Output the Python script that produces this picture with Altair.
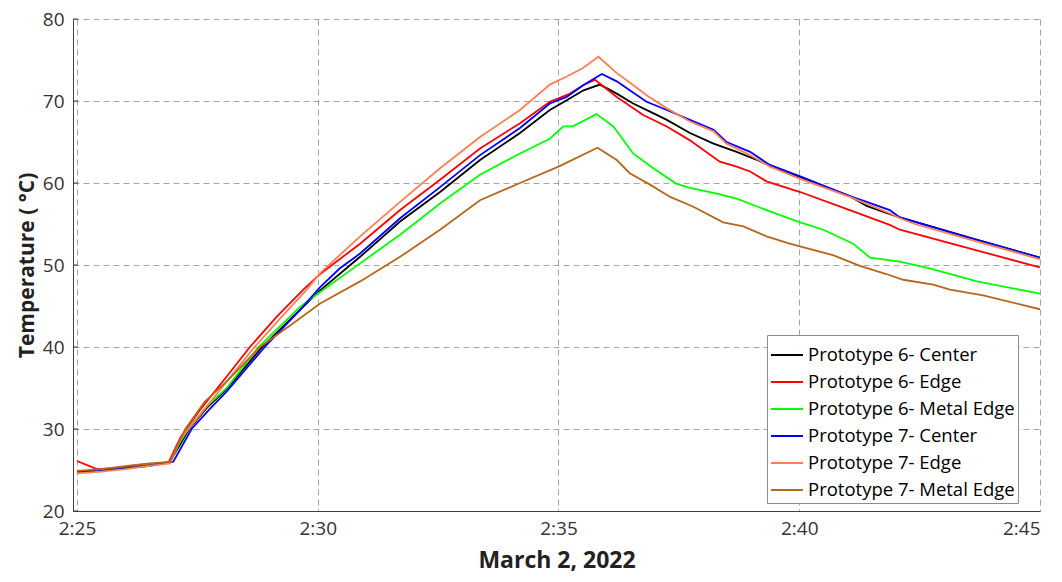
import altair as alt
import pandas as pd

# Series names and line colours
SERIES = [
    "Prototype 6- Center",
    "Prototype 6- Edge",
    "Prototype 6- Metal Edge",
    "Prototype 7- Center",
    "Prototype 7- Edge",
    "Prototype 7- Metal Edge",
]
COLORS = ["#000000", "#ff0000", "#00ff00", "#0000ff", "#ff7f50", "#b8671a"]

# Time in minutes after 2:25, temperature in °C
p6_center_t = [0, 0.5, 1.0, 1.5, 1.93, 2.15, 2.33, 2.7, 3.11, 3.83, 4.5, 5.05, 5.88, 6.71, 7.54, 8.37, 9.2,
               9.82, 10.17, 10.52, 10.86, 11.21, 11.55, 11.90, 12.25, 12.73, 13.22, 13.70, 14.12,
               14.53, 15.02, 15.5, 16.05, 16.4, 16.88, 17.09, 18.55, 20]
p6_center_v = [24.8, 25.0, 25.3, 25.6, 26.0, 28.2, 30.0, 32.6, 34.9, 39.9, 43.8, 46.9, 51.0, 55.3, 58.9, 62.8, 66.1,
               68.9, 70.1, 71.3, 72.0, 70.9, 69.7, 68.7, 67.7, 66.1, 64.8, 63.8, 62.8,
               61.8, 60.7, 59.6, 58.4, 57.2, 56.2, 55.8, 53.3, 50.9]

p6_edge_t = [0, 0.41, 1.0, 1.5, 1.9, 2.15, 2.55, 3.11, 3.59, 4.15, 4.70, 5.05, 5.88, 6.71, 7.54, 8.37, 9.2,
             9.82, 10.24, 10.52, 10.76, 11.21, 11.76, 12.25, 12.73, 13.35, 13.70, 13.98, 14.32,
             15.02, 16.05, 16.88, 17.09, 18.55, 20]
p6_edge_v = [26.1, 25.1, 25.3, 25.6, 25.9, 29.0, 32.3, 36.4, 40.0, 43.7, 47.0, 48.9, 52.6, 56.7, 60.4, 64.2, 67.3,
             69.9, 70.9, 71.95, 72.6, 70.5, 68.3, 66.9, 65.2, 62.6, 62.0, 61.4, 60.2,
             58.9, 56.7, 54.9, 54.3, 52.0, 49.7]

p6_metal_t = [0, 0.5, 1.0, 1.5, 1.93, 2.12, 2.31, 2.7, 3.11, 3.77, 4.63, 5.05, 5.88, 6.71, 7.54, 8.37, 9.2,
              9.82, 10.1, 10.3, 10.79, 11.14, 11.55, 11.97, 12.45, 12.73, 13.29, 13.70, 14.32,
              15.02, 15.5, 16.12, 16.47, 17.09, 17.71, 18.69, 20]
p6_metal_v = [24.7, 24.9, 25.2, 25.5, 25.9, 28.2, 30.0, 32.8, 35.0, 40.0, 44.9, 46.7, 50.2, 53.7, 57.5, 61.0, 63.6,
              65.4, 66.9, 66.9, 68.4, 66.9, 63.6, 61.8, 59.9, 59.4, 58.7, 58.1, 56.7,
              55.2, 54.3, 52.6, 50.9, 50.4, 49.6, 48.0, 46.5]

p7_center_t = [0, 0.5, 1.0, 1.5, 2.0, 2.38, 2.75, 3.11, 3.90, 4.63, 5.05, 5.46, 5.88, 6.71, 7.54, 8.37, 9.2,
               9.82, 10.17, 10.52, 10.90, 11.21, 11.48, 11.83, 12.25, 12.73, 13.22, 13.49, 13.98,
               14.39, 15.02, 16.05, 16.4, 16.88, 17.09, 18.55, 20]
p7_center_v = [24.8, 24.9, 25.2, 25.5, 26.0, 30.0, 32.4, 34.6, 40.0, 44.5, 47.3, 49.6, 51.4, 55.7, 59.5, 63.4, 66.7,
               69.7, 70.5, 71.95, 73.3, 72.4, 71.3, 69.9, 68.9, 67.7, 66.5, 65.0, 63.8,
               62.2, 60.8, 58.4, 57.7, 56.7, 55.8, 53.3, 50.9]

p7_edge_t = [0, 0.5, 1.0, 1.5, 1.93, 2.15, 2.55, 3.11, 3.66, 4.22, 4.77, 5.05, 5.88, 6.71, 7.54, 8.37, 9.2,
             9.82, 10.16, 10.5, 10.83, 11.21, 11.55, 11.83, 12.25, 12.73, 13.22, 13.49, 13.98,
             14.39, 15.02, 16.05, 16.88, 17.09, 17.4, 18.55, 20]
p7_edge_v = [24.6, 24.8, 25.1, 25.5, 25.8, 28.8, 31.7, 35.8, 39.8, 43.5, 47.0, 49.0, 53.5, 57.7, 61.8, 65.6, 68.9,
             72.0, 72.96, 74.0, 75.4, 73.4, 71.95, 70.7, 69.1, 67.5, 66.3, 64.8, 63.4,
             62.0, 60.5, 58.3, 56.3, 55.7, 55.0, 53.1, 50.7]

p7_metal_t = [0, 0.5, 1.17, 1.5, 1.93, 2.25, 2.65, 3.11, 3.80, 4.49, 5.05, 5.88, 6.71, 7.54, 8.37, 9.2,
              10.0, 10.81, 11.21, 11.48, 11.90, 12.32, 12.80, 13.42, 13.84, 14.32, 14.8, 15.7,
              16.26, 16.81, 17.16, 17.78, 18.13, 18.82, 20]
p7_metal_v = [24.9, 25.1, 25.6, 25.8, 26.0, 30.0, 33.3, 35.8, 40.0, 42.9, 45.3, 48.0, 51.0, 54.3, 57.9, 60.0,
              62.0, 64.3, 62.8, 61.2, 59.8, 58.3, 57.1, 55.2, 54.7, 53.5, 52.6, 51.2,
              49.9, 48.9, 48.2, 47.6, 47.0, 46.3, 44.6]

TIMES = [p6_center_t, p6_edge_t, p6_metal_t, p7_center_t, p7_edge_t, p7_metal_t]
VALUES = [p6_center_v, p6_edge_v, p6_metal_v, p7_center_v, p7_edge_v, p7_metal_v]

X_TICKS = [0, 5, 10, 15, 20]
Y_TICKS = [20, 30, 40, 50, 60, 70, 80]

df = pd.concat(
    [pd.DataFrame({"minute": t, "temp": v, "series": name})
     for name, t, v in zip(SERIES, TIMES, VALUES)],
    ignore_index=True,
)

FONT = "Open Sans"
AXIS_GRAY = "#404040"

x_scale = alt.Scale(domain=[-0.083, 20], nice=False, zero=False)
y_scale = alt.Scale(domain=[20, 80], nice=False, zero=False)

lines = alt.Chart(df).mark_line(strokeWidth=1.8, clip=True).encode(
    x=alt.X(
        "minute:Q",
        scale=x_scale,
        axis=alt.Axis(
            values=X_TICKS,
            labelExpr="'2:' + (25 + datum.value)",
            title="March 2, 2022",
            titleFontSize=23,
            titleFontWeight="bold",
            titleColor="#222222",
            titlePadding=11,
            labelFontSize=19,
            labelColor="#333333",
            labelPadding=8,
            tickSize=0,
            domainColor=AXIS_GRAY,
            gridDash=[6, 4],
            gridColor="#a6a6a6",
        ),
    ),
    y=alt.Y(
        "temp:Q",
        scale=y_scale,
        axis=alt.Axis(
            values=Y_TICKS,
            title="Temperature ( °C)",
            titleFontSize=21,
            titleFontWeight="bold",
            titleColor="#222222",
            titlePadding=5,
            labelFontSize=19,
            labelColor="#333333",
            labelPadding=9,
            tickSize=0,
            domainColor=AXIS_GRAY,
            gridDash=[6, 4],
            gridColor="#a6a6a6",
        ),
    ),
    color=alt.Color(
        "series:N",
        scale=alt.Scale(domain=SERIES, range=COLORS),
        legend=alt.Legend(
            orient="none",
            legendX=694,
            legendY=316,
            direction="vertical",
            title=None,
            symbolType="stroke",
            symbolSize=1024,
            symbolStrokeWidth=2,
            labelFontSize=18.5,
            labelColor="#000000",
            labelOffset=4,
            labelLimit=400,
            fillColor="white",
            strokeColor="#8c8c8c",
            padding=3,
            rowPadding=0,
        ),
    ),
)

# Inward tick stubs on the temperature axis
tick_stubs = alt.Chart(pd.DataFrame({"temp": Y_TICKS})).mark_rule(
    color=AXIS_GRAY, strokeWidth=1
).encode(
    y=alt.Y("temp:Q", scale=y_scale),
    x=alt.value(0),
    x2=alt.value(5),
)

chart = alt.layer(lines, tick_stubs).properties(
    width=967,
    height=492,
    autosize=alt.AutoSizeParams(type="none"),
    padding={"left": 73, "top": 19, "right": 22, "bottom": 71},
    background="white",
).configure(
    font=FONT,
).configure_view(
    stroke=None,
)

chart.save("out.html", embed_options={"renderer": "svg", "actions": False})
